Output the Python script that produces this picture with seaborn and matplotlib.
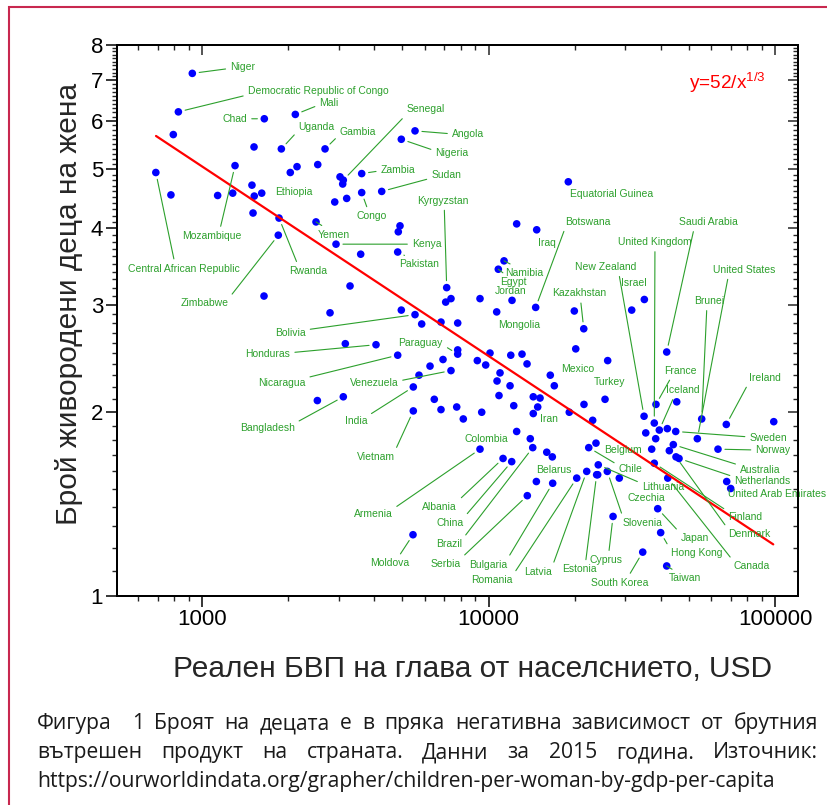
import numpy as np
import pandas as pd
import seaborn as sns
import matplotlib
matplotlib.use("Agg")
import matplotlib.pyplot as plt
from matplotlib.ticker import NullFormatter
from matplotlib.patches import Rectangle

# ---------------- data ----------------
country = [
    "Niger", "Democratic Republic of Congo", "Chad", "Mali", "", "", "Uganda", "Gambia",
    "Mozambique", "Central African Republic", "", "", "", "Senegal", "", "", "Zambia",
    "", "", "", "", "", "Ethiopia", "", "", "Congo", "Sudan", "Angola", "Nigeria", "",
    "Rwanda", "Yemen", "Zimbabwe", "Equatorial Guinea", "", "", "", "Iraq", "Kenya", "",
    "Pakistan", "", "Kyrgyzstan", "", "", "", "Namibia", "Egypt", "Jordan", "Mongolia",
    "Botswana", "", "Kazakhstan", "", "", "", "Bolivia", "", "", "", "", "", "Honduras",
    "Nicaragua", "", "Paraguay", "", "", "Venezuela", "", "India", "", "", "", "", "", "",
    "", "", "", "", "", "", "", "", "Mexico", "", "Bangladesh", "Vietnam", "", "", "", "",
    "", "", "Iran", "", "", "", "Colombia", "", "Brazil", "", "", "Armenia", "Albania",
    "China", "", "Chile", "Lithuania", "Estonia", "Latvia", "Romania", "Belarus",
    "Bulgaria", "Serbia", "Moldova", "", "", "Israel", "Saudi Arabia", "Turkey",
    "New Zealand", "France", "", "United Kingdom", "", "Iceland", "", "Sweden", "",
    "Brunei", "Ireland", "", "United States", "Norway", "Australia", "", "Denmark",
    "Belgium", "Finland", "", "Slovenia", "Czechia", "Canada", "Japan", "Cyprus",
    "Hong Kong", "South Korea", "Taiwan", "", "United Arab Emirates", "Netherlands",
]
gdp = [
    925, 827, 1650, 2117, 794, 1519, 1892, 2688,
    1304, 690, 2146, 2033, 2535, 3113, 3032, 3098, 3609,
    1494, 779, 1134, 1280, 1522, 1616, 3199, 2906, 3609, 4239, 5540, 4962, 1507,
    1857, 2500, 1846, 18990, 4910, 4843, 12540, 14730, 2936, 3580,
    4820, 3286, 7146, 7397, 7089, 9340, 11330, 10820, 12080, 10680,
    14610, 19930, 21500, 20160, 1646, 2798, 5540, 4962, 5845, 6826, 7807, 3164, 4049,
    4820, 7807, 7807, 6250, 6937, 7397, 5720, 5464, 6468, 9140, 9777, 10120, 11960, 13090,
    13630, 10970, 10710, 11890, 10880, 14330, 15130, 16430, 16970, 2527, 3113, 5464, 6826, 7745, 8166, 9469,
    12250, 14850, 14330, 19140, 21540, 23100, 12540, 13990, 14270, 15970, 16700, 9340, 11240,
    12050, 23720, 22380, 24160, 23850, 22020, 20320, 14690,
    16750, 13660, 5451, 26060, 31610, 34990, 41880, 25510,
    34910, 38420, 45390, 37900, 35390, 39460, 42090, 45020, 38330,
    55480, 67610, 99000, 53560, 63240, 44160, 42770, 45130,
    37120, 37900, 24050, 25980, 28610, 42230, 38960, 27210,
    39900, 34540, 41880, 67830, 70040, 46240,
]
tfr = [
    7.18, 6.21, 6.05, 6.15, 5.70, 5.44, 5.40, 5.40,
    5.07, 4.94, 5.05, 4.94, 5.09, 4.80, 4.86, 4.73, 4.92,
    4.71, 4.54, 4.53, 4.57, 4.52, 4.57, 4.48, 4.42, 4.58, 4.60, 5.78, 5.60, 4.24,
    4.16, 4.10, 3.90, 4.77, 4.04, 3.95, 4.07, 3.98, 3.77, 3.63,
    3.66, 3.22, 3.20, 3.07, 3.03, 3.07, 3.54, 3.43, 3.05, 2.92,
    2.97, 2.93, 2.74, 2.54, 3.10, 2.91, 2.89, 2.94, 2.79, 2.81, 2.80, 2.59, 2.58,
    2.48, 2.53, 2.49, 2.38, 2.44, 2.34, 2.30, 2.20, 2.10, 2.43, 2.39, 2.50, 2.48, 2.49,
    2.40, 2.32, 2.25, 2.21, 2.13, 2.12, 2.11, 2.30, 2.21, 2.09, 2.12, 2.01, 2.02, 2.04, 1.95, 2.00,
    2.05, 2.04, 1.99, 2.00, 2.06, 1.94, 1.86, 1.81, 1.75, 1.72, 1.69, 1.74, 1.68,
    1.66, 1.78, 1.75, 1.64, 1.58, 1.60, 1.56, 1.54,
    1.53, 1.46, 1.26, 2.43, 2.94, 3.06, 2.51, 2.10,
    1.97, 2.06, 2.08, 1.92, 1.85, 1.87, 1.88, 1.86, 1.81,
    1.95, 1.91, 1.93, 1.81, 1.74, 1.77, 1.73, 1.69,
    1.74, 1.65, 1.58, 1.60, 1.56, 1.56, 1.39, 1.35,
    1.27, 1.18, 1.12, 1.54, 1.50, 1.68,
]

# fitted trend (end points)
fit_gdp = [691, 98600]
fit_tfr = [5.67, 1.215]

x_major = [1000, 10000, 100000]
x_major_labels = ["1000", "10000", "100000"]
x_minor = [600, 700, 800, 900] + [k * 1000 for k in range(2, 10)] + [k * 10000 for k in range(2, 10)]
y_major = [1, 2, 3, 4, 5, 6, 7, 8]
y_major_labels = ["1", "2", "3", "4", "5", "6", "7", "8"]
y_minor = [round(v / 10, 1) for v in range(11, 80) if v % 10 != 0]

# label placement: offset of label centre from its point (pixels, y up), leader line?
label_pos = {
    "Niger": (50.4, 6, True), "Democratic Republic of Congo": (139.7, 20.4, True),
    "Mali": (33.7, 11.6, True), "Chad": (-29.6, 0, True), "Uganda": (35.2, 22.3, True),
    "Gambia": (32.8, 17.3, True), "Ethiopia": (31.6, 0.7, False), "Senegal": (82.2, 70.7, True),
    "Angola": (53, -3.6, True), "Nigeria": (50.7, -14, True), "Zambia": (36.3, 3.4, True),
    "Sudan": (64.5, 16, True), "Congo": (10, -23.7, True), "Kyrgyzstan": (-3.7, 87, True),
    "Equatorial Guinea": (43, -12.6, False), "Botswana": (52.6, 85.6, True),
    "Saudi Arabia": (41.5, 130, True), "United Kingdom": (1, 181, True),
    "New Zealand": (-38.2, 149.4, True), "Israel": (-10.8, 16.6, False),
    "United States": (46.9, 169, True), "Brunei": (7.8, 118, True), "France": (24.2, 33.7, True),
    "Iceland": (23.2, 40, True), "Ireland": (38.4, 46.7, True), "Kazakhstan": (-5, 35.4, True),
    "Mexico": (23.5, 17, False), "Turkey": (4.2, 17, False), "Iraq": (10.3, -13.3, False),
    "Namibia": (20.5, -12, True), "Egypt": (14.7, -12.7, True), "Jordan": (-1.8, 9.7, False),
    "Mongolia": (22.8, -13, False), "Kenya": (90.7, 0, True), "Pakistan": (21.8, -12.3, True),
    "Yemen": (18.2, -12.6, True), "Rwanda": (29, -53, True), "Zimbabwe": (-73.6, -68.3, True),
    "Mozambique": (-23.2, -70.3, True), "Central African Republic": (28.5, -96, True),
    "Bolivia": (-124.7, -18.3, True), "Honduras": (-108.2, -9.6, True),
    "Nicaragua": (-116, -27.4, True), "Venezuela": (-77.2, -12.6, True),
    "Paraguay": (-36.9, 11, True), "Bangladesh": (-76.1, -31.6, True), "India": (-57.5, -34.4, True),
    "Vietnam": (-37.8, -46, True), "Iran": (15.2, -5.6, False), "Colombia": (-30.4, -7.3, False),
    "Armenia": (-107, -65.3, True), "Albania": (-63.3, -48.3, True), "China": (-61.7, -61.3, True),
    "Brazil": (-83.4, -96.7, True), "Serbia": (-82, -68.3, True), "Moldova": (-23.2, -28.6, True),
    "Bulgaria": (-64.7, -81.3, True), "Romania": (-84.5, -102, True), "Latvia": (-48.4, -100.3, True),
    "Estonia": (-17, -94.6, True), "Belarus": (17.5, 12, False), "Cyprus": (-6.8, -43.6, True),
    "South Korea": (-22.7, -30.6, True), "Slovenia": (35.7, -51.3, True),
    "Czechia": (27.4, -19.6, False), "Lithuania": (64.7, -22.4, True), "Chile": (41.8, -21.3, True),
    "Belgium": (-28.4, -1, False), "Japan": (36.8, -29.6, True), "Hong Kong": (35.6, -20.6, True),
    "Taiwan": (17.8, -12.3, True), "Canada": (84, -88.3, True), "Denmark": (73.2, -77.3, True),
    "Finland": (91, -53.3, True), "United Arab Emirates": (46, -5, False),
    "Netherlands": (83.5, -22.3, True), "Australia": (87, -25, True), "Norway": (55, -1, True),
    "Sweden": (92.6, -6.6, True),
}

caption_lines = [
    ["Фигура", "1", "Броят", "на", "децата", "е", "в", "пряка", "негативна", "зависимост", "от", "брутния"],
    ["вътрешен", "продукт", "на", "страната.", "Данни", "за", "2015", "година.", "Източник:"],
    ["https://ourworldindata.org/grapher/children-per-woman-by-gdp-per-capita"],
]

# ---------------- styling ----------------
sns.set_style("ticks")
plt.rcParams["font.family"] = ["Liberation Sans", "DejaVu Sans"]
plt.rcParams["mathtext.fontset"] = "custom"
plt.rcParams["mathtext.rm"] = "Liberation Sans"
plt.rcParams["mathtext.it"] = "Liberation Sans"

W, H = 827, 805
fig = plt.figure(figsize=(W / 100, H / 100), dpi=100)
fig.patch.set_facecolor("white")
L, R, T, B = 117, 798, 44.7, 596
ax = fig.add_axes([L / W, 1 - B / H, (R - L) / W, (B - T) / H])

df = pd.DataFrame({"gdp": gdp, "tfr": tfr, "country": country})
fit_df = pd.DataFrame({"gdp": fit_gdp, "tfr": fit_tfr})

sns.scatterplot(data=df, x="gdp", y="tfr", ax=ax, color="#0000ff", s=30,
                edgecolor="none", linewidth=0, zorder=3)
sns.lineplot(data=fit_df, x="gdp", y="tfr", ax=ax, color="#ff0000", lw=1.6, zorder=4)

ax.set_xscale("log")
ax.set_yscale("log")
xlim = (505, 120300)
ylim = (1, 8)
ax.set_xlim(*xlim)
ax.set_ylim(*ylim)

spine_w = 1.4
for a in [ax]:
    for s in a.spines.values():
        s.set_linewidth(spine_w)
        s.set_color("black")

ax.set_xticks(x_major)
ax.set_xticklabels(x_major_labels)
ax.set_xticks(x_minor, minor=True)
ax.xaxis.set_minor_formatter(NullFormatter())
ax.set_yticks(y_major)
ax.set_yticklabels(y_major_labels)
ax.set_yticks(y_minor, minor=True)
ax.yaxis.set_minor_formatter(NullFormatter())
ax.tick_params(axis="both", which="major", direction="out", length=8, width=1.1,
               labelsize=16, colors="black")
ax.tick_params(axis="x", which="major", pad=1.5)
ax.tick_params(axis="y", which="major", pad=2)
ax.tick_params(axis="both", which="minor", direction="out", length=3.3, width=1.0)

# mirrored ticks on top / right, pointing inwards
ax_t = ax.twiny()
ax_t.set_xscale("log")
ax_t.set_xlim(*xlim)
ax_t.set_xticks(x_major)
ax_t.set_xticks(x_minor, minor=True)
ax_t.xaxis.set_major_formatter(NullFormatter())
ax_t.xaxis.set_minor_formatter(NullFormatter())
ax_t.tick_params(axis="x", which="major", direction="in", length=7.5, width=1.1, labeltop=False)
ax_t.tick_params(axis="x", which="minor", direction="in", length=3.3, width=1.0)
ax_r = ax.twinx()
ax_r.set_yscale("log")
ax_r.set_ylim(*ylim)
ax_r.set_yticks(y_major)
ax_r.set_yticks(y_minor, minor=True)
ax_r.yaxis.set_major_formatter(NullFormatter())
ax_r.yaxis.set_minor_formatter(NullFormatter())
ax_r.tick_params(axis="y", which="major", direction="in", length=7.5, width=1.1, labelright=False)
ax_r.tick_params(axis="y", which="minor", direction="in", length=3.6, width=1.0)
for a in [ax_t, ax_r]:
    for s in a.spines.values():
        s.set_linewidth(spine_w)
        s.set_color("black")

ax.set_xlabel("Реален БВП на глава от населснието, USD", fontsize=21.5)
ax.xaxis.label.set_va("baseline")
ax.xaxis.set_label_coords(0.522, -(677 - B) / (B - T))
ax.set_ylabel("Брой живородени деца на жена", fontsize=21.5)
ax.yaxis.label.set_va("baseline")
ax.yaxis.set_label_coords((77 - L) / (R - L), 0.53)

# equation
fig.text(689 / W, 1 - 89 / H, r"y=52/x$^{1/3}$", color="#ff0000", fontsize=13.7,
         ha="left", va="baseline")

# country labels with leader lines
green = "#2ca02c"
lab_fs = 7.5
fig.canvas.draw()
renderer = fig.canvas.get_renderer()
for name, g, t in zip(country, gdp, tfr):
    if not name or name not in label_pos:
        continue
    dx, dy, leader = label_pos[name]
    tmp = ax.text(0, 0, name, fontsize=lab_fs)
    bb = tmp.get_window_extent(renderer)
    tmp.remove()
    w, h = bb.width, bb.height
    arrowprops = None
    if leader:
        px, py = -dx, -dy
        if abs(px) > w / 2 + 8 and abs(px) > 0.6 * abs(py):
            rx = 1.0 if px > 0 else 0.0
            ry = 0.5 + 0.5 * float(np.clip(py / (3 * h), -1, 1))
        else:
            ry = 1.0 if py > 0 else 0.0
            rx = 0.5 + 0.5 * float(np.clip(px / (1.5 * w), -1, 1))
        arrowprops = dict(arrowstyle="-", color=green, lw=0.8, shrinkA=1, shrinkB=5,
                          relpos=(rx, ry))
    ax.annotate(name, xy=(g, t), xytext=(dx, dy), textcoords="offset pixels",
                ha="center", va="center", fontsize=lab_fs, color=green,
                arrowprops=arrowprops, annotation_clip=False, zorder=5)

# caption, justified
cap_font = ["Open Sans", "DejaVu Sans"]
probe = fig.text(0, 0, caption_lines[2][0], fontsize=10, family=cap_font)
w10 = probe.get_window_extent(renderer).width
probe.remove()
cap_fs = 10 * 736 / w10
cap_left, cap_right = 37, 818
baselines = [729, 758, 787]
for li, words in enumerate(caption_lines):
    texts = [fig.text(0, 0, wd, fontsize=cap_fs, family=cap_font, color="#1a1a1a",
                      ha="left", va="baseline") for wd in words]
    widths = [tx.get_window_extent(renderer).width for tx in texts]
    if li < 2 and len(words) > 1:
        weights = [2 if (li == 0 and k == 0) else 1 for k in range(len(words) - 1)]
        gap = (cap_right - cap_left - sum(widths)) / sum(weights)
    else:
        weights = [1] * max(len(words) - 1, 0)
        gap = 0
    xcur = cap_left
    for k, (tx, wd) in enumerate(zip(texts, widths)):
        tx.set_position((xcur / W, 1 - baselines[li] / H))
        xcur += wd + (gap * weights[k] if k < len(weights) else 0)

# page frame
fig.add_artist(Rectangle((9 / W, -0.05), 1.2, 1 - 7 / H + 0.05, transform=fig.transFigure,
                         fill=False, edgecolor="#c8284f", lw=1.5))

fig.savefig("out.png", dpi=100)
